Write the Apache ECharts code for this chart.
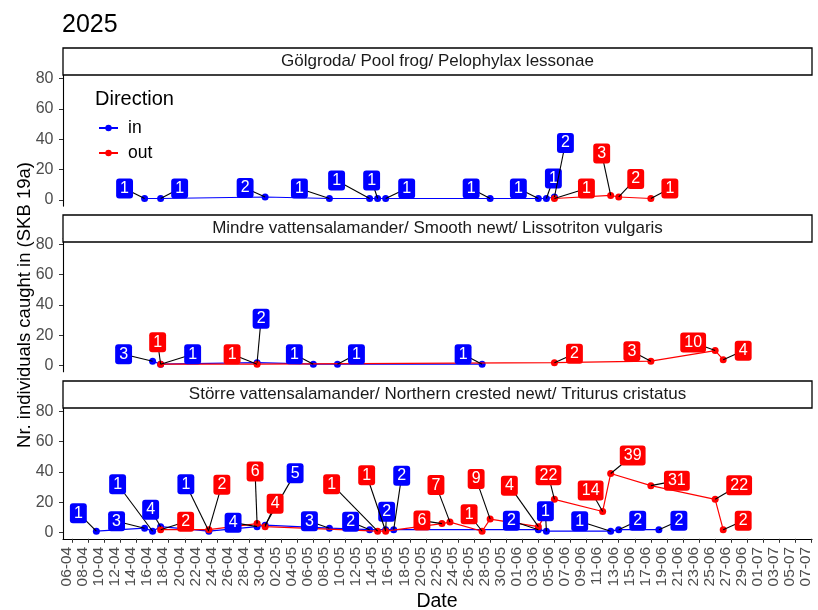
<!DOCTYPE html>
<html>
<head>
<meta charset="utf-8">
<script src="https://cdn.jsdelivr.net/npm/echarts@6/dist/echarts.min.js"></script>
<style>
  html, body { margin: 0; padding: 0; background: #ffffff; }
  #chart { width: 818px; height: 610px; }
</style>
</head>
<body>
<div id="chart"></div>
<script>
// ---- data -------------------------------------------------------------
const yearTitle = '2025';
const panelTitles = [
  'Gölgroda/ Pool frog/ Pelophylax lessonae',
  'Mindre vattensalamander/ Smooth newt/ Lissotriton vulgaris',
  'Större vattensalamander/ Northern crested newt/ Triturus cristatus'
];
const directions = ['in', 'out'];

// x-axis tick labels (dd-mm, 2025)
const tickLabels = [
  '06-04','08-04','10-04','12-04','14-04','16-04','18-04','20-04','22-04','24-04','26-04','28-04','30-04',
  '02-05','04-05','06-05','08-05','10-05','12-05','14-05','16-05','18-05','20-05','22-05','24-05','26-05','28-05','30-05',
  '01-06','03-06','05-06','07-06','09-06','11-06','13-06','15-06','17-06','19-06','21-06','23-06','25-06','27-06','29-06',
  '01-07','03-07','05-07','07-07'
];
const yTicks = [0, 20, 40, 60, 80];

// Pool frog
const frogInDates  = ['2025-04-15','2025-04-17','2025-04-30','2025-05-08','2025-05-13','2025-05-14','2025-05-15','2025-05-28','2025-06-03','2025-06-04','2025-06-05'];
const frogInCounts = [1, 1, 2, 1, 1, 1, 1, 1, 1, 1, 2];
const frogOutDates  = ['2025-06-05','2025-06-12','2025-06-13','2025-06-17'];
const frogOutCounts = [1, 3, 2, 1];

// Smooth newt
const smoothInDates  = ['2025-04-16','2025-04-17','2025-04-29','2025-05-06','2025-05-09','2025-05-27'];
const smoothInCounts = [3, 1, 2, 1, 1, 1];
const smoothOutDates  = ['2025-04-17','2025-04-29','2025-06-05','2025-06-17','2025-06-25','2025-06-26'];
const smoothOutCounts = [1, 1, 2, 3, 10, 4];

// Northern crested newt
const crestedInDates  = ['2025-04-09','2025-04-15','2025-04-16','2025-04-17','2025-04-23','2025-04-29','2025-04-30','2025-05-08',
                         '2025-05-13','2025-05-15','2025-05-16','2025-06-03','2025-06-04','2025-06-12','2025-06-13','2025-06-18'];
const crestedInCounts = [1, 3, 1, 4, 1, 4, 5, 3, 2, 2, 2, 2, 1, 1, 2, 2];
const crestedOutDates  = ['2025-04-17','2025-04-23','2025-04-29','2025-04-30','2025-05-14','2025-05-15','2025-05-22','2025-05-23',
                          '2025-05-27','2025-05-28','2025-06-03','2025-06-05','2025-06-11','2025-06-12','2025-06-17','2025-06-25','2025-06-26'];
const crestedOutCounts = [2, 2, 6, 4, 1, 1, 6, 7, 1, 9, 4, 22, 14, 39, 31, 22, 2];

// ---- repelled label placement (pixel offsets from each point) ----------
const frogInLabelShift  = [[-20,-10],[19,-10],[-20,-9],[-30,-10],[-33,-18],[-6,-18],[21,-10],[-19,-10],[-20,-10],[7,-20],[11,-54]];
const frogOutLabelShift = [[32,-10],[-9,-42],[17,-18],[19,-10]];
const smoothInLabelShift  = [[-29,-7],[32,-10],[4,-44],[-19,-10],[19,-10],[-19,-10]];
const smoothOutLabelShift = [[-3,-22],[-25,-10],[20,-9],[-19,-10],[-22,-8],[20,-9]];
const crestedInLabelShift  = [[-18,-18],[-28,-7],[-35,-47],[-10,-17],[-23,-47],[-24,-4],[30,-52],[-20,-7],
                              [-19,-8],[1,-18],[8,-54],[-27,-9],[-1,-20],[-31,-10],[19,-9],[20,-9]];
const crestedOutLabelShift = [[25,-8],[13,-45],[-2,-52],[10,-23],[-46,-47],[-19,-56],[-20,-3],[-14,-37],
                              [-13,-17],[-14,-40],[-29,-41],[-6,-24],[-12,-21],[22,-18],[26,-5],[24,-14],[20,-9]];

// ---- helpers ------------------------------------------------------------
const ORIGIN = Date.UTC(2025, 3, 6);
function dayOf(iso) {
  const [y, m, d] = iso.split('-').map(Number);
  return (Date.UTC(y, m - 1, d) - ORIGIN) / 86400000;
}
function dayOfLabel(ddmm) {
  const [d, m] = ddmm.split('-').map(Number);
  return (Date.UTC(2025, m - 1, d) - ORIGIN) / 86400000;
}
const tickDays = tickLabels.map(dayOfLabel);
const tickText = {};
tickDays.forEach((v, i) => { tickText[v] = tickLabels[i]; });

const COLORS = { in: '#0000FF', out: '#FF0000' };
const FONT = '"Liberation Sans", Arial, Helvetica, sans-serif';

const panels = [
  { in: [frogInDates, frogInCounts, frogInLabelShift], out: [frogOutDates, frogOutCounts, frogOutLabelShift] },
  { in: [smoothInDates, smoothInCounts, smoothInLabelShift], out: [smoothOutDates, smoothOutCounts, smoothOutLabelShift] },
  { in: [crestedInDates, crestedInCounts, crestedInLabelShift], out: [crestedOutDates, crestedOutCounts, crestedOutLabelShift] }
];

// ---- layout -------------------------------------------------------------
const PANEL_LEFT = 63, PANEL_WIDTH = 749, PANEL_HEIGHT = 133.6;
const panelTops = [72.5, 238.2, 405.2];
const stripTops = [48, 215, 381];
const STRIP_H = 27;
const X_MIN = -1.15, X_MAX = 92.05;

const grids = [], xAxes = [], yAxes = [], series = [], graphics = [];

panelTops.forEach((top, p) => {
  const isBottom = p === panelTops.length - 1;
  grids.push({ left: PANEL_LEFT, top: top, width: PANEL_WIDTH, height: PANEL_HEIGHT, containLabel: false });
  xAxes.push({
    type: 'value', gridIndex: p, min: X_MIN, max: X_MAX, show: isBottom,
    splitLine: { show: false },
    axisLine: { show: isBottom, onZero: false, lineStyle: { color: '#000', width: 1.1 } },
    axisTick: { show: isBottom, length: 4, customValues: tickDays, lineStyle: { color: '#333', width: 1 } },
    axisLabel: {
      show: isBottom, customValues: tickDays, rotate: 90, margin: 8,
      color: '#4D4D4D', fontSize: 15.5, fontFamily: FONT,
      verticalAlign: 'bottom', lineHeight: 11,
      formatter: v => tickText[v] || ''
    }
  });
  yAxes.push({
    type: 'value', gridIndex: p, min: -4, max: 84,
    splitLine: { show: false },
    axisLine: { show: true, onZero: false, lineStyle: { color: '#000', width: 1.1 } },
    axisTick: { show: true, length: 4, customValues: yTicks, lineStyle: { color: '#333', width: 1 } },
    axisLabel: { customValues: yTicks, margin: 9.5, color: '#4D4D4D', fontSize: 16, fontFamily: FONT }
  });

  directions.forEach(dir => {
    const [dates, counts] = panels[p][dir];
    series.push({
      type: 'line', name: dir, xAxisIndex: p, yAxisIndex: p,
      data: dates.map((d, i) => [dayOf(d), counts[i]]),
      symbol: 'circle', symbolSize: 7, showSymbol: true,
      lineStyle: { color: COLORS[dir], width: 1.2 },
      itemStyle: { color: COLORS[dir] },
      z: dir === 'in' ? 2 : 3,
      animation: false, silent: true
    });
  });
  directions.forEach(dir => {
    const [dates, counts, shift] = panels[p][dir];
    series.push({
      type: 'custom', name: dir + '-labels', xAxisIndex: p, yAxisIndex: p,
      data: dates.map((d, i) => [dayOf(d), counts[i], shift[i][0], shift[i][1]]),
      renderItem: (params, api) => {
        const pt = api.coord([api.value(0), api.value(1)]);
        const cx = pt[0] + api.value(2), cy = pt[1] + api.value(3);
        return {
          type: 'group',
          children: [
            { type: 'line', shape: { x1: pt[0], y1: pt[1], x2: cx, y2: cy },
              style: { stroke: '#000', lineWidth: 1.1 } },
            { type: 'text', x: cx, y: cy,
              style: {
                text: String(api.value(1)), fill: '#fff', fontSize: 16, fontFamily: FONT,
                align: 'center', verticalAlign: 'middle', lineHeight: 16,
                backgroundColor: COLORS[dir], borderRadius: 3, padding: [2, 4, 2, 4]
              } }
          ]
        };
      },
      z: 10, animation: false, silent: true
    });
  });

  // facet strip
  graphics.push({
    type: 'rect', z: 100,
    shape: { x: PANEL_LEFT, y: stripTops[p], width: PANEL_WIDTH, height: STRIP_H },
    style: { fill: '#fff', stroke: '#000', lineWidth: 1.3 }
  });
  graphics.push({
    type: 'text', z: 101, x: PANEL_LEFT + PANEL_WIDTH / 2, y: stripTops[p] + STRIP_H / 2,
    style: { text: panelTitles[p], fill: '#1A1A1A', fontSize: 17, fontFamily: FONT, align: 'center', verticalAlign: 'middle' }
  });
});

// titles & axis names
graphics.push(
  { type: 'text', z: 101, x: 62, y: 25,
    style: { text: yearTitle, fill: '#000', fontSize: 25, fontFamily: FONT, align: 'left', verticalAlign: 'middle' } },
  { type: 'text', z: 101, x: 25, y: 305, rotation: Math.PI / 2,
    style: { text: 'Nr. individuals caught in (SKB 19a)', fill: '#000', fontSize: 18.5, fontFamily: FONT, align: 'center', verticalAlign: 'middle' } },
  { type: 'text', z: 101, x: 437, y: 602,
    style: { text: 'Date', fill: '#000', fontSize: 19.5, fontFamily: FONT, align: 'center', verticalAlign: 'middle' } },
  { type: 'text', z: 101, x: 95, y: 99,
    style: { text: 'Direction', fill: '#000', fontSize: 20, fontFamily: FONT, align: 'left', verticalAlign: 'middle' } }
);

const chart = echarts.init(document.getElementById('chart'), null, { renderer: 'canvas' });
chart.setOption({
  backgroundColor: '#fff',
  animation: false,
  grid: grids,
  xAxis: xAxes,
  yAxis: yAxes,
  legend: {
    data: directions, orient: 'vertical', left: 98, top: 119, padding: 0,
    itemWidth: 19, itemHeight: 8, itemGap: 7,
    textStyle: { fontSize: 17.5, lineHeight: 18, fontFamily: FONT, color: '#000', padding: [0, 0, 0, 5] },
    selectedMode: false
  },
  series: series,
  graphic: graphics
});
</script>
</body>
</html>
